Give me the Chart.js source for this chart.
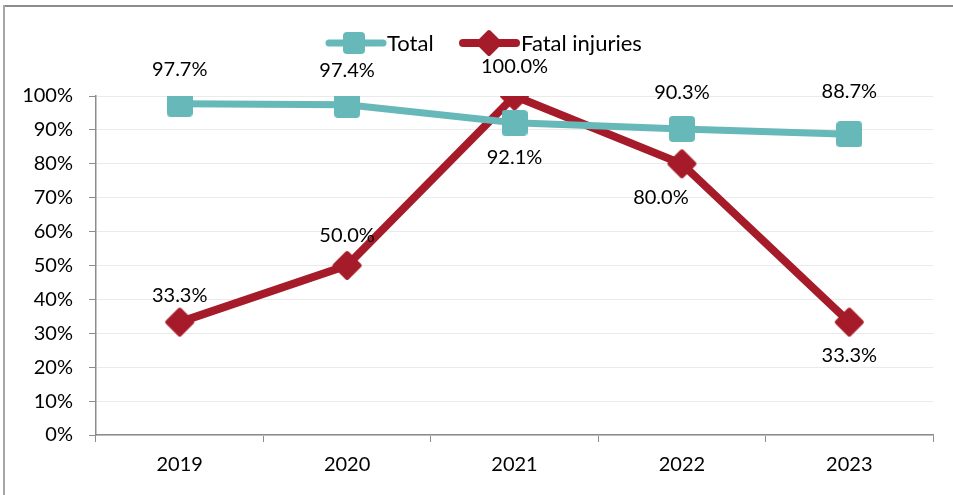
<!DOCTYPE html>
<html>
<head>
<meta charset="utf-8">
<script src="https://cdn.jsdelivr.net/npm/chart.js@4"></script>
<style>
  html, body { margin: 0; padding: 0; background: #fff; }
  #wrap { width: 953px; height: 495px; position: relative; }
</style>
</head>
<body>
<div id="wrap"><canvas id="chart" width="953" height="495"></canvas></div>
<script>
const years = ['2019', '2020', '2021', '2022', '2023'];
const total = [97.7, 97.4, 92.1, 90.3, 88.7];
const fatal = [33.3, 50.0, 100.0, 80.0, 33.3];
const yTicks = [0, 10, 20, 30, 40, 50, 60, 70, 80, 90, 100];

const TEAL = '#66b8b9';
const RED = '#a61b29';
const FONT = 'Lato, "Open Sans", sans-serif';

// marker images: rounded square for Total, diamond for Fatal injuries
function squareMarker(size, r) {
    const c = document.createElement('canvas');
    c.width = size; c.height = size;
    const g = c.getContext('2d');
    g.fillStyle = TEAL;
    g.beginPath();
    g.roundRect(0, 0, size, size, r);
    g.fill();
    return c;
}
function diamondMarker(size) {
    const c = document.createElement('canvas');
    c.width = size; c.height = size;
    const g = c.getContext('2d');
    const h = size / 2, p = 3;
    g.fillStyle = RED;
    g.strokeStyle = RED;
    g.lineWidth = 4;
    g.lineJoin = 'round';
    g.beginPath();
    g.moveTo(h, p); g.lineTo(size - p, h); g.lineTo(h, size - p); g.lineTo(p, h);
    g.closePath();
    g.fill(); g.stroke();
    return c;
}
const sqBig = squareMarker(26, 4);
const dmBig = diamondMarker(31);
const sqSmall = squareMarker(22, 4);
const dmSmall = diamondMarker(28);

// label offsets in px relative to each point [dx, dy]
const totalOffsets = [[0, -34], [0, -34], [0, 35], [0, -36], [0, -43]];
const fatalOffsets = [[0, -27], [0, -30], [0, -29], [-21, 34], [0, 33]];

const frame = {
    id: 'frame',
    beforeDraw(chart) {
        const g = chart.ctx;
        g.save();
        g.fillStyle = '#8c8c8c';
        g.fillRect(3, 5, 950, 2);
        g.fillStyle = '#a6a6a6';
        g.fillRect(3, 5, 2, 490);
        g.restore();
    }
};

const legendBox = {
    id: 'legendBox',
    afterDraw(chart) {
        const g = chart.ctx;
        g.save();
        const y = 43;
        g.lineCap = 'round';
        g.lineWidth = 7;
        g.strokeStyle = TEAL;
        g.beginPath(); g.moveTo(329, y); g.lineTo(383, y); g.stroke();
        g.drawImage(sqSmall, 354 - 11, y - 11);
        g.lineWidth = 8;
        g.strokeStyle = RED;
        g.beginPath(); g.moveTo(463, y); g.lineTo(516, y); g.stroke();
        g.drawImage(dmSmall, 489 - 14, y - 14);
        g.fillStyle = '#000';
        g.font = '22px ' + FONT;
        g.textBaseline = 'middle';
        g.fillText('Total', 387, y + 1);
        g.fillText('Fatal injuries', 521, y + 1);
        g.restore();
    }
};

const valueLabels = {
    id: 'valueLabels',
    afterDatasetsDraw(chart) {
        const g = chart.ctx;
        g.save();
        g.fillStyle = '#000';
        g.font = '20px ' + FONT;
        g.textAlign = 'center';
        g.textBaseline = 'middle';
        const offs = [totalOffsets, fatalOffsets];
        chart.data.datasets.forEach((ds, i) => {
            chart.getDatasetMeta(i).data.forEach((pt, j) => {
                const o = offs[i][j];
                g.fillText(ds.data[j].toFixed(1) + '%', pt.x + o[0], pt.y + o[1]);
            });
        });
        g.restore();
    }
};

new Chart(document.getElementById('chart'), {
    type: 'line',
    data: {
        labels: years,
        datasets: [
            {label: 'Total', data: total, borderColor: TEAL, backgroundColor: TEAL,
             borderWidth: 7, pointStyle: sqBig, tension: 0},
            {label: 'Fatal injuries', data: fatal, borderColor: RED, backgroundColor: RED,
             borderWidth: 8, pointStyle: dmBig, tension: 0}
        ]
    },
    options: {
        responsive: false,
        animation: false,
        layout: {padding: {top: 96, right: 20, left: 0, bottom: 0}},
        plugins: {legend: {display: false}, tooltip: {enabled: false}},
        scales: {
            x: {
                offset: true,
                grid: {offset: true, drawOnChartArea: false, tickLength: 7, tickColor: '#8c8c8c'},
                border: {color: '#8c8c8c', width: 1.5},
                ticks: {color: '#000', font: {size: 20, family: FONT}, padding: 11},
                afterFit: s => { s.height = 60; }
            },
            y: {
                min: 0, max: 100,
                afterBuildTicks: s => { s.ticks = yTicks.map(v => ({value: v})); },
                grid: {color: '#eaeaea', tickLength: 7, tickColor: '#8c8c8c'},
                border: {color: '#8c8c8c', width: 1.5},
                ticks: {color: '#000', font: {size: 20, family: FONT}, padding: 16,
                        callback: v => v + '%'},
                afterFit: s => { s.width = 96; }
            }
        }
    },
    plugins: [frame, legendBox, valueLabels]
});
</script>
</body>
</html>
